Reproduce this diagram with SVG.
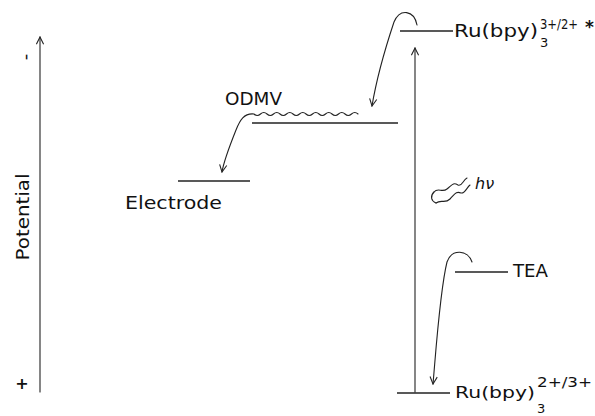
<svg xmlns="http://www.w3.org/2000/svg" width="595" height="416" viewBox="0 0 595 416">
<style>
.t{font-family:"DejaVu Sans","Liberation Sans",sans-serif;fill:#111}
.lv{stroke:#222;stroke-width:1.6;fill:none}
.c{stroke:#222;stroke-width:1.1;fill:none;stroke-linecap:round;stroke-linejoin:round}
</style>
<defs>
<marker id="ah" viewBox="0 0 10 10" refX="9" refY="5" markerWidth="9" markerHeight="9" markerUnits="userSpaceOnUse" orient="auto">
<path d="M1,1 L9,5 L1,9" fill="none" stroke="#222" stroke-width="1.2"/>
</marker>
</defs>
<rect width="595" height="416" fill="#fff"/>
<g id="axis">
<line class="c" x1="40" y1="392" x2="40" y2="37" marker-end="url(#ah)"/>
<text class="t" font-size="18" transform="translate(29,217) rotate(-90)" text-anchor="middle" textLength="87" lengthAdjust="spacingAndGlyphs">Potential</text>
<text class="t" font-size="18" transform="translate(31,57) rotate(-90)" text-anchor="middle">-</text>
<text class="t" font-size="16" x="22" y="389" text-anchor="middle" font-weight="bold">+</text>
</g>
<g id="ru-excited">
<line class="lv" x1="400" y1="31" x2="453" y2="31"/>
<text class="t" font-size="17" x="454" y="37" textLength="84" lengthAdjust="spacingAndGlyphs">Ru(bpy)</text>
<text class="t" font-size="13" x="540" y="47">3</text>
<text class="t" font-size="14" x="540" y="29" textLength="38" lengthAdjust="spacingAndGlyphs">3+/2+</text>
<text class="t" font-size="17" x="585" y="33" font-weight="bold">*</text>
</g>
<g id="odmv">
<line class="lv" x1="252" y1="123" x2="398" y2="123"/>
<text class="t" font-size="17" x="225" y="105" textLength="57" lengthAdjust="spacingAndGlyphs">ODMV</text>
</g>
<g id="electrode">
<line class="lv" x1="178" y1="181" x2="250" y2="181"/>
<text class="t" font-size="18" x="125" y="209" textLength="97" lengthAdjust="spacingAndGlyphs">Electrode</text>
</g>
<g id="tea">
<line class="lv" x1="455" y1="272" x2="508" y2="272"/>
<text class="t" font-size="18" x="513" y="277" textLength="35" lengthAdjust="spacingAndGlyphs">TEA</text>
</g>
<g id="ru-ground">
<line class="lv" x1="397" y1="393" x2="450" y2="393"/>
<text class="t" font-size="16" x="455" y="398" textLength="80" lengthAdjust="spacingAndGlyphs">Ru(bpy)</text>
<text class="t" font-size="13" x="537" y="413">3</text>
<text class="t" font-size="14" x="537" y="387" textLength="55" lengthAdjust="spacingAndGlyphs">2+/3+</text>
</g>
<g id="hv">
<path class="c" d="M434,192 C438,187 442,193 447,189 C452,185 453,182 458,185 C462,187 463,180 467,178"/>
<path class="c" d="M436,203 C441,199 445,204 450,199 C455,194 456,191 461,193 C465,194 467,187 470,185"/>
<path class="c" d="M434,192 C430,196 431,201 436,203"/>
<text class="t" font-size="16" font-style="italic" x="475" y="189">hν</text>
</g>
<g id="connectors">
<line class="c" x1="415" y1="392" x2="415" y2="48" marker-end="url(#ah)"/>
<path class="c" d="M417,25 C414,10 400,8 394,22 C388,40 378,70 372,106" marker-end="url(#ah)"/>
<path class="c" d="M358,114 q-3.25,-3 -6.5,0 t-6.5,0 t-6.5,0 t-6.5,0 t-6.5,0 t-6.5,0 t-6.5,0 t-6.5,0 t-6.5,0 t-6.5,0 t-6.5,0 t-6.5,0 t-6.5,0 t-6.5,0 t-6.5,0 t-6.5,0 C244,113 240,120 236,130 C230,145 224,160 222,172" marker-end="url(#ah)"/>
<path class="c" d="M472,262 C468,250 452,248 447,262 C440,290 436,350 433,384" marker-end="url(#ah)"/>
</g>
</svg>
